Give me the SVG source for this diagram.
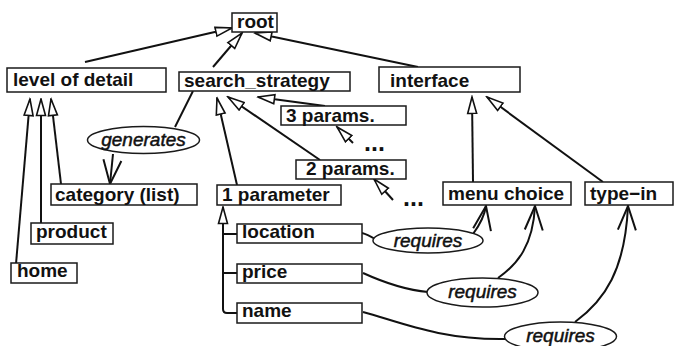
<svg xmlns="http://www.w3.org/2000/svg" width="674" height="346" viewBox="0 0 674 346">
  <style>
    .box { fill: #fff; stroke: #1a1a1a; stroke-width: 1.5; }
    .oval { fill: #fff; stroke: #1a1a1a; stroke-width: 1.5; }
    .lbl { font-family: "Liberation Sans", Arial, Helvetica, sans-serif; font-weight: bold; font-size: 19px; fill: #111; }
    .rel { font-family: "Liberation Sans", Arial, Helvetica, sans-serif; font-style: italic; font-size: 19px; fill: #111; stroke: #111; stroke-width: 0.5; text-anchor: middle; }
    .dots { font-family: "Liberation Sans", Arial, Helvetica, sans-serif; font-weight: bold; font-size: 25px; fill: #111; }
    .isa { fill: none; stroke: #111; stroke-width: 2; marker-end: url(#tri); }
    .dep { fill: none; stroke: #111; stroke-width: 2; marker-end: url(#vee); }
    .plain { fill: none; stroke: #111; stroke-width: 2; }
  </style>
  <defs>
    <!-- hollow triangle: specialisation points at its parent -->
    <marker id="tri" markerUnits="userSpaceOnUse" viewBox="0 0 19 12" markerWidth="19" markerHeight="12" refX="17.5" refY="6" orient="auto">
      <path d="M1,1.5 L17.5,6 L1,10.5 Z" fill="#fff" stroke="#111" stroke-width="1.6" stroke-linejoin="miter"/>
    </marker>
    <!-- open vee: dependency arrow -->
    <marker id="vee" markerUnits="userSpaceOnUse" viewBox="0 0 27 21" markerWidth="27" markerHeight="21" refX="25" refY="10.5" orient="auto">
      <path d="M1,1.5 L25,10.5 L1,19.5" fill="none" stroke="#111" stroke-width="2"/>
    </marker>
  </defs>

  <g id="connectors">
    <!-- to root -->
    <path class="isa" d="M85,62 L232,28"/>
    <path class="isa" d="M213,67 L242,33"/>
    <path class="isa" d="M418,67 L255,33"/>
    <!-- level of detail children -->
    <path class="isa" d="M61,184 L51,99"/>
    <path class="isa" d="M41,223 L41,99"/>
    <path class="isa" d="M16,264 L30,99"/>
    <!-- search_strategy children -->
    <path class="isa" d="M237,185 L217,98"/>
    <path class="isa" d="M320,160 L228,97"/>
    <path class="isa" d="M325,106 L258,97"/>
    <path class="isa" d="M353,143 L337,127"/>
    <path class="isa" d="M393,200 L374,179"/>
    <!-- interface children -->
    <path class="isa" d="M473,182 L472,97"/>
    <path class="isa" d="M603,182 L487,97"/>
    <!-- parameter tree -->
    <path class="isa" d="M237,313 L227,313 Q223,313 223,309 L223,207"/>
    <path class="plain" d="M237,234 L223,234"/>
    <path class="plain" d="M237,273 L223,273"/>
    <!-- generates -->
    <path class="plain" d="M193,91 L175,127"/>
    <path class="dep" d="M113,154 L110,184"/>
    <!-- requires: location -> menu choice -->
    <path class="plain" d="M362,233 C366,234 370,236 375,239"/>
    <path class="dep" d="M473,234 C479,226 484,218 486,206"/>
    <!-- requires: price -> menu choice -->
    <path class="plain" d="M363,273 C385,283 405,290 428,292"/>
    <path class="dep" d="M498,278 C518,264 533,245 535,206"/>
    <!-- requires: name -> type-in -->
    <path class="plain" d="M363,312 C400,322 440,340 505,339"/>
    <path class="dep" d="M575,322 C605,300 625,270 628,206"/>
  </g>

  <g id="root"><rect class="box" x="232" y="13" width="45" height="19"/><text class="lbl" x="237" y="28">root</text></g>
  <g id="level-of-detail"><rect class="box" x="7" y="68" width="159" height="24"/><text class="lbl" x="13" y="86">level of detail</text></g>
  <g id="search-strategy"><rect class="box" x="179" y="72" width="171" height="19"/><text class="lbl" x="184" y="87">search_strategy</text></g>
  <g id="interface"><rect class="box" x="379" y="67" width="141" height="25"/><text class="lbl" x="390" y="87">interface</text></g>
  <g id="params-3"><rect class="box" x="281" y="106" width="125" height="19"/><text class="lbl" x="286" y="122">3 params.</text></g>
  <g id="params-2"><rect class="box" x="296" y="160" width="110" height="19"/><text class="lbl" x="306" y="175">2 params.</text></g>
  <g id="more-3"><text class="dots" x="364" y="151">...</text></g>
  <g id="more-2"><text class="dots" x="403" y="206">...</text></g>
  <g id="category"><rect class="box" x="51" y="184" width="146" height="21"/><text class="lbl" x="55" y="201">category (list)</text></g>
  <g id="param-1"><rect class="box" x="217" y="185" width="124" height="20"/><text class="lbl" x="222" y="201">1 parameter</text></g>
  <g id="menu-choice"><rect class="box" x="443" y="182" width="128" height="23"/><text class="lbl" x="448" y="200">menu choice</text></g>
  <g id="type-in"><rect class="box" x="585" y="182" width="88" height="23"/><text class="lbl" x="590" y="200">type−in</text></g>
  <g id="product"><rect class="box" x="31" y="223" width="82" height="21"/><text class="lbl" x="36" y="238">product</text></g>
  <g id="home"><rect class="box" x="11" y="263" width="66" height="20"/><text class="lbl" x="17" y="277">home</text></g>
  <g id="location"><rect class="box" x="237" y="224" width="125" height="19"/><text class="lbl" x="242" y="238">location</text></g>
  <g id="price"><rect class="box" x="237" y="264" width="125" height="19"/><text class="lbl" x="242" y="278">price</text></g>
  <g id="name"><rect class="box" x="237" y="303" width="125" height="20"/><text class="lbl" x="242" y="317">name</text></g>

  <g id="generates"><ellipse class="oval" cx="143.5" cy="140" rx="56" ry="13.5"/><text class="rel" x="143.5" y="146">generates</text></g>
  <g id="requires-location"><ellipse class="oval" cx="428" cy="240.5" rx="55" ry="12.5"/><text class="rel" x="428" y="247">requires</text></g>
  <g id="requires-price"><ellipse class="oval" cx="482.5" cy="292.5" rx="55.5" ry="14.5"/><text class="rel" x="482.5" y="298">requires</text></g>
  <g id="requires-name"><ellipse class="oval" cx="560.5" cy="336.5" rx="56" ry="14.5"/><text class="rel" x="560.5" y="342">requires</text></g>
</svg>
